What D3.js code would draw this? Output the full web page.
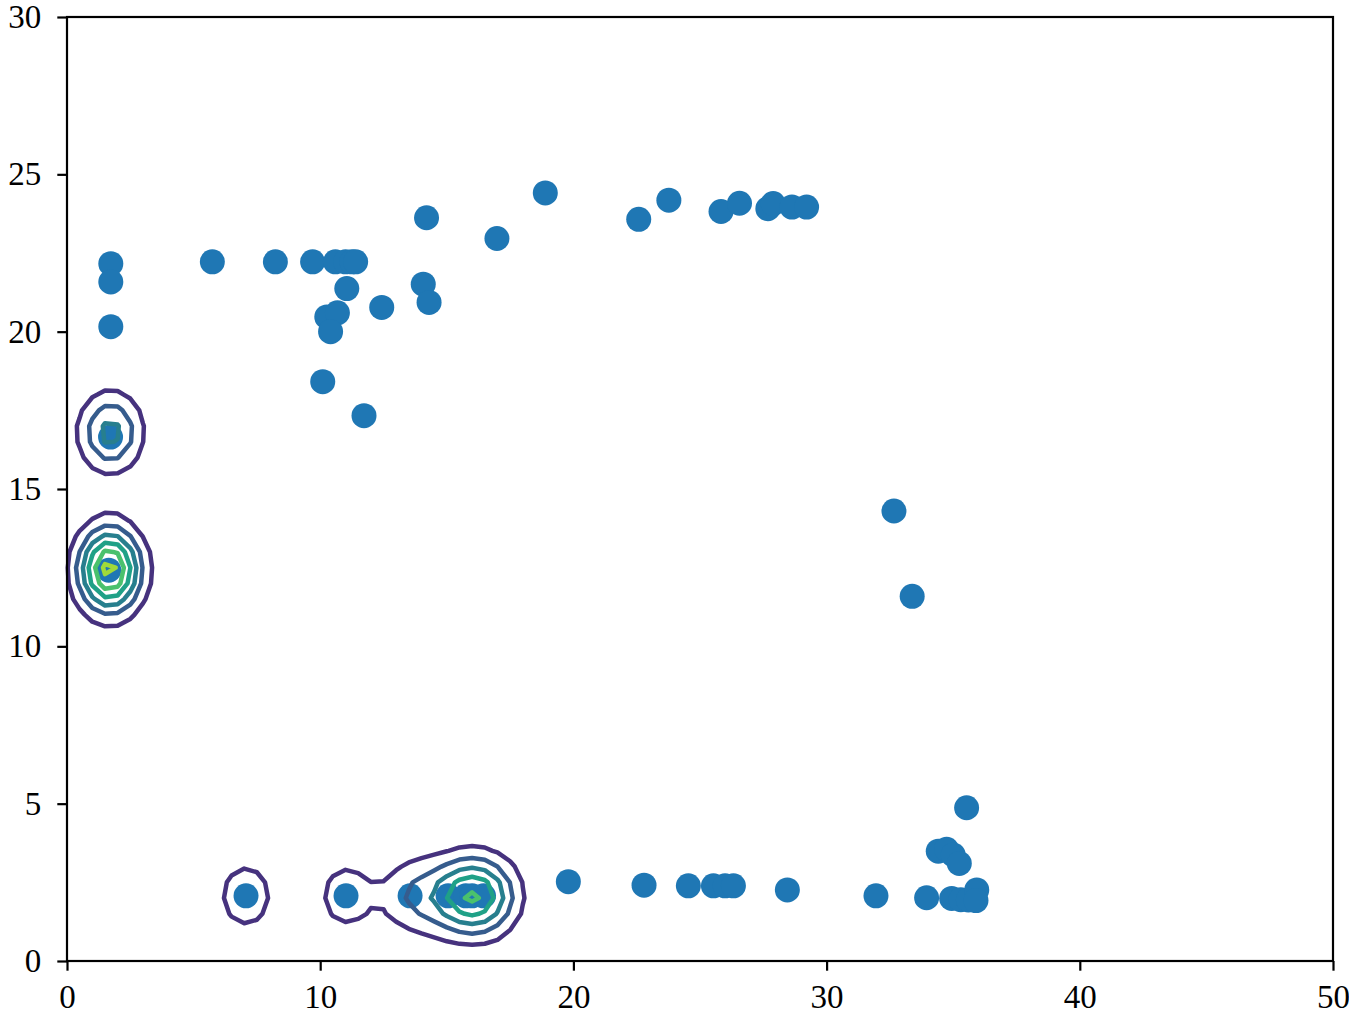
<!DOCTYPE html>
<html>
<head>
<meta charset="utf-8">
<script src="https://cdn.jsdelivr.net/npm/d3@7"></script>
<style>
  body { margin: 0; background: #fff; }
  svg text { font-family: "Liberation Serif", "DejaVu Serif", serif; }
</style>
</head>
<body>
<svg id="chart" width="1349" height="1017"></svg>
<script>
// scatter points
const ptX = [1.73, 1.73, 1.73, 1.72, 1.65,
  5.74, 8.23, 9.7, 10.6, 11.0, 11.25, 11.4,
  11.05, 12.43, 10.26, 10.68, 10.41, 10.1, 11.73,
  14.2, 14.07, 14.3, 16.98, 18.89, 22.58, 23.77, 25.83, 26.56, 27.68, 27.89, 28.63, 29.21,
  32.66, 33.38,
  35.53, 34.41, 34.74, 35.0, 35.24,
  7.07, 11.02, 13.55, 15.05, 15.75, 16.0, 16.45, 19.8, 22.79, 24.54, 25.53, 25.99, 26.32, 28.45,
  31.95, 33.95, 34.94, 35.3, 35.6, 35.93, 35.9];
const ptY = [22.16, 21.58, 20.16, 16.65, 12.42,
  22.22, 22.22, 22.22, 22.22, 22.22, 22.22, 22.22,
  21.37, 20.77, 20.47, 20.6, 20.0, 18.41, 17.33,
  23.62, 21.51, 20.93, 22.96, 24.41, 23.57, 24.18, 23.82, 24.08, 23.91, 24.07, 23.96, 23.96,
  14.3, 11.59,
  4.87, 3.49, 3.55, 3.37, 3.1,
  2.07, 2.07, 2.07, 2.07, 2.07, 2.07, 2.07, 2.52, 2.41, 2.39, 2.39, 2.39, 2.39, 2.26,
  2.07, 2.01, 1.99, 1.95, 1.94, 2.26, 1.92];

// density sources (where the time was spent) and their weights
const srcX = [1.68, 1.68, 1.72, 7.07, 11.02, 13.55, 15.05, 16.0, 16.6, 17.2];
const srcY = [12.1, 12.75, 16.8, 2.07, 2.07, 2.07, 2.07, 2.07, 2.07, 2.07];
const srcW = [3.45, 3.45, 3.35, 1.7, 1.6, 1.7, 2.0, 2.6, 1.6, 0.8];

const levels = [1, 2, 3, 4, 5, 6];
const xTicks = [0, 10, 20, 30, 40, 50];
const yTicks = [0, 5, 10, 15, 20, 25, 30];

const svg = d3.select("#chart");
const margin = { left: 67, right: 16, top: 17, bottom: 56 };
const W = +svg.attr("width"), H = +svg.attr("height");

const x = d3.scaleLinear().domain([0, 50]).range([margin.left, W - margin.right]);
const y = d3.scaleLinear().domain([0, 30]).range([H - margin.bottom, margin.top]);

// density grid
const step = 0.5, bw = 0.85;
const nx = 50 / step + 1, ny = 30 / step + 1;
const grid = new Float64Array(nx * ny);
for (let j = 0; j < ny; j++) {
  for (let i = 0; i < nx; i++) {
    let gx = i * step, gy = j * step, v = 0;
    for (let k = 0; k < srcX.length; k++) {
      let dx = gx - srcX[k], dy = gy - srcY[k];
      v += srcW[k] * Math.exp(-(dx * dx + dy * dy) / (2 * bw * bw));
    }
    grid[i + j * nx] = v;
  }
}

const contours = d3.contours().size([nx, ny]).thresholds(levels)(grid);
const color = d3.scaleOrdinal().domain(levels).range(levels.map(l => d3.interpolateViridis(l / 7)));

// scatter
svg.append("g")
  .selectAll("circle")
  .data(ptX.map((v, i) => [v, ptY[i]]))
  .join("circle")
  .attr("cx", d => x(d[0]))
  .attr("cy", d => y(d[1]))
  .attr("r", 12.5)
  .attr("fill", "#1f77b4");

// contour lines on top
const line = d3.line()
  .x(p => x((p[0] - 0.5) * step))
  .y(p => y((p[1] - 0.5) * step));

svg.append("g")
  .selectAll("path")
  .data(contours)
  .join("path")
  .attr("d", c => c.coordinates.map(poly => poly.map(ring => line(ring) + "Z").join("")).join(""))
  .attr("fill", "none")
  .attr("stroke", c => color(c.value))
  .attr("stroke-width", 4.5)
  .attr("stroke-linejoin", "round");

// axes
const xAxis = svg.append("g")
  .attr("transform", `translate(0,${y(0)})`)
  .call(d3.axisBottom(x).tickValues(xTicks).tickFormat(d3.format("d")).tickSize(9.7).tickSizeOuter(0).tickPadding(14));
const yAxis = svg.append("g")
  .attr("transform", `translate(${x(0)},0)`)
  .call(d3.axisLeft(y).tickValues(yTicks).tickFormat(d3.format("d")).tickSize(9.7).tickSizeOuter(0).tickPadding(16));

[xAxis, yAxis].forEach(a => {
  a.selectAll("text").attr("font-size", 33).attr("fill", "#000").style("font-family", '"Liberation Serif", serif');
  a.selectAll("line").attr("stroke-width", 2.2).attr("stroke", "#000");
  a.select(".domain").attr("stroke", "none");
});

// frame
svg.append("rect")
  .attr("x", x(0)).attr("y", y(30))
  .attr("width", x(50) - x(0)).attr("height", y(0) - y(30))
  .attr("fill", "none").attr("stroke", "#000").attr("stroke-width", 2.2);
</script>
</body>
</html>
